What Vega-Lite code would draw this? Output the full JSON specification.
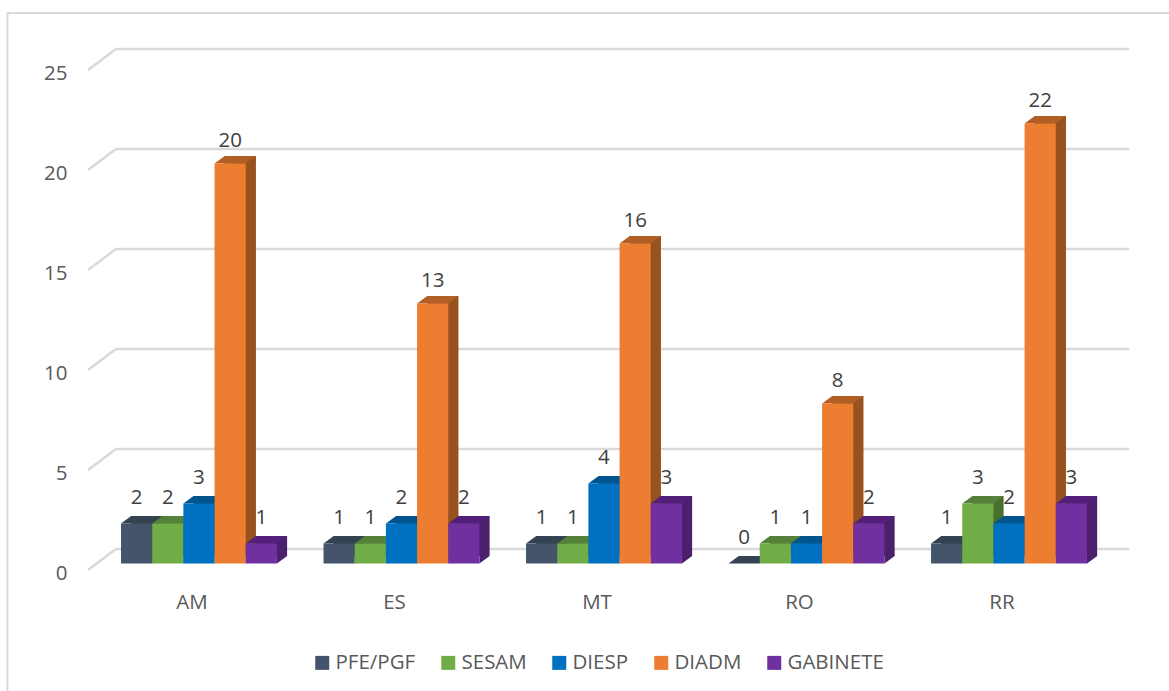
{
"$schema":"https://vega.github.io/schema/vega-lite/v6.json",
"width":1032,"height":500,
"autosize":"none",
"padding":{"left":88,"top":63.5,"right":49,"bottom":127.5},
"background":"white",
"config":{"view":{"stroke":null},"font":"Open Sans"},
"datasets":{
"bars":[
{"state":"AM","series":"PFE/PGF","value":2},{"state":"AM","series":"SESAM","value":2},{"state":"AM","series":"DIESP","value":3},{"state":"AM","series":"DIADM","value":20},{"state":"AM","series":"GABINETE","value":1},
{"state":"ES","series":"PFE/PGF","value":1},{"state":"ES","series":"SESAM","value":1},{"state":"ES","series":"DIESP","value":2},{"state":"ES","series":"DIADM","value":13},{"state":"ES","series":"GABINETE","value":2},
{"state":"MT","series":"PFE/PGF","value":1},{"state":"MT","series":"SESAM","value":1},{"state":"MT","series":"DIESP","value":4},{"state":"MT","series":"DIADM","value":16},{"state":"MT","series":"GABINETE","value":3},
{"state":"RO","series":"PFE/PGF","value":0},{"state":"RO","series":"SESAM","value":1},{"state":"RO","series":"DIESP","value":1},{"state":"RO","series":"DIADM","value":8},{"state":"RO","series":"GABINETE","value":2},
{"state":"RR","series":"PFE/PGF","value":1},{"state":"RR","series":"SESAM","value":3},{"state":"RR","series":"DIESP","value":2},{"state":"RR","series":"DIADM","value":22},{"state":"RR","series":"GABINETE","value":3}
],
"grid":[{"v":0},{"v":5},{"v":10},{"v":15},{"v":20},{"v":25}]
},
"data":{"name":"bars"},
"encoding":{
"x":{"field":"state","type":"nominal","scale":{"paddingInner":0.23,"paddingOuter":0.163},"axis":{"title":null,"ticks":false,"domain":false,"labelAngle":0,"labelFontSize":20.5,"labelColor":"#595959","labelPadding":29,"labelOffset":-7,"labelFont":"Open Sans"}},
"xOffset":{"field":"series","type":"nominal","scale":{"type":"band","domain":["PFE/PGF","SESAM","DIESP","DIADM","GABINETE"],"paddingInner":0,"paddingOuter":0,"range":[0,155.9]}},
"y":{"field":"value","type":"quantitative","scale":{"domain":[0,25],"nice":false},"axis":{"title":null,"ticks":false,"domain":false,"grid":false,"values":[0,5,10,15,20,25],"labelFontSize":20.5,"labelColor":"#595959","labelPadding":21,"labelOffset":10,"labelFont":"Open Sans"}}
},
"layer":[
{"data":{"name":"grid"},"mark":{"type":"rule","color":"#D9D9D9","strokeWidth":2.4,"yOffset":-14.5,"y2Offset":-14.5},
 "encoding":{"xOffset":null,"x":{"value":28},"x2":{"value":1041},"y":{"field":"v","type":"quantitative"},"y2":{"field":"v"}}},
{"data":{"name":"grid"},"mark":{"type":"rule","color":"#D9D9D9","strokeWidth":2.4,"yOffset":6.5,"y2Offset":-14.5},
 "encoding":{"xOffset":null,"x":{"value":0},"x2":{"value":28},"y":{"field":"v","type":"quantitative"},"y2":{"field":"v"}}},
{"data":{"values":[{"v":25}]},"mark":{"type":"rule","color":"#D9D9D9","strokeWidth":2,"yOffset":-50.5,"y2Offset":-50.5},
 "encoding":{"xOffset":null,"x":{"value":-81},"x2":{"value":1081},"y":{"field":"v","type":"quantitative"},"y2":{"field":"v"}}},
{"data":{"values":[{"v":25}]},"mark":{"type":"rule","color":"#D9D9D9","strokeWidth":2},
 "encoding":{"xOffset":null,"x":{"value":-80.5},"x2":{"value":-80.5},"y":{"value":-50.5},"y2":{"value":627.5}}},
{"mark":{"type":"bar","yOffset":-7.5,"y2Offset":-7.5},
 "encoding":{"xOffset":{"field":"series","type":"nominal","scale":{"type":"band","domain":["PFE/PGF","SESAM","DIESP","DIADM","GABINETE"],"paddingInner":0,"paddingOuter":0,"range":[10.2,166.1]}},"color":{"field":"series","type":"nominal","legend":null,"scale":{"domain":["PFE/PGF","SESAM","DIESP","DIADM","GABINETE"],"range":["#2E3947","#4A7030","#004C82","#97521F","#4B206C"]}}}},
{"mark":{"type":"point","filled":true,"opacity":1,"size":4,"strokeWidth":0,"shape":"M15.6,0 L15.6,-7.5 L25.8,-7.5 Z"},
 "encoding":{"y":{"datum":0},"color":{"field":"series","type":"nominal","legend":null,"scale":{"domain":["PFE/PGF","SESAM","DIESP","DIADM","GABINETE"],"range":["#2E3947","#4A7030","#004C82","#97521F","#4B206C"]}}}},
{"mark":{"type":"point","filled":true,"opacity":1,"size":4,"strokeWidth":0,"shape":"M-15.6,0 L-5.4,-7.5 L25.8,-7.5 L15.6,0 Z"},
 "encoding":{"color":{"field":"series","type":"nominal","legend":null,"scale":{"domain":["PFE/PGF","SESAM","DIESP","DIADM","GABINETE"],"range":["#354252","#55813A","#00558F","#B25F25","#541F7A"]}}}},
{"mark":{"type":"bar"},
 "encoding":{"color":{"field":"series","type":"nominal","scale":{"domain":["PFE/PGF","SESAM","DIESP","DIADM","GABINETE"],"range":["#44546A","#70AD47","#0070C0","#ED7D31","#7030A0"]},
 "legend":{"title":null,"orient":"none","legendX":224,"legendY":589,"direction":"horizontal","symbolType":"square","symbolSize":196,"symbolStrokeWidth":0,"labelFontSize":20.5,"labelColor":"#595959","labelFont":"Open Sans","labelOffset":3,"columnPadding":22}}}},
{"transform":[{"filter":"datum.value < 8"}],"mark":{"type":"text","fontSize":20.5,"color":"#404040","baseline":"alphabetic","dy":-20},
 "encoding":{"text":{"field":"value","type":"quantitative"}}},
{"transform":[{"filter":"datum.value >= 8"}],"mark":{"type":"text","fontSize":20.5,"color":"#404040","baseline":"alphabetic","dy":-17},
 "encoding":{"text":{"field":"value","type":"quantitative"}}}
],
"resolve":{"scale":{"color":"independent","xOffset":"independent"}}
}
